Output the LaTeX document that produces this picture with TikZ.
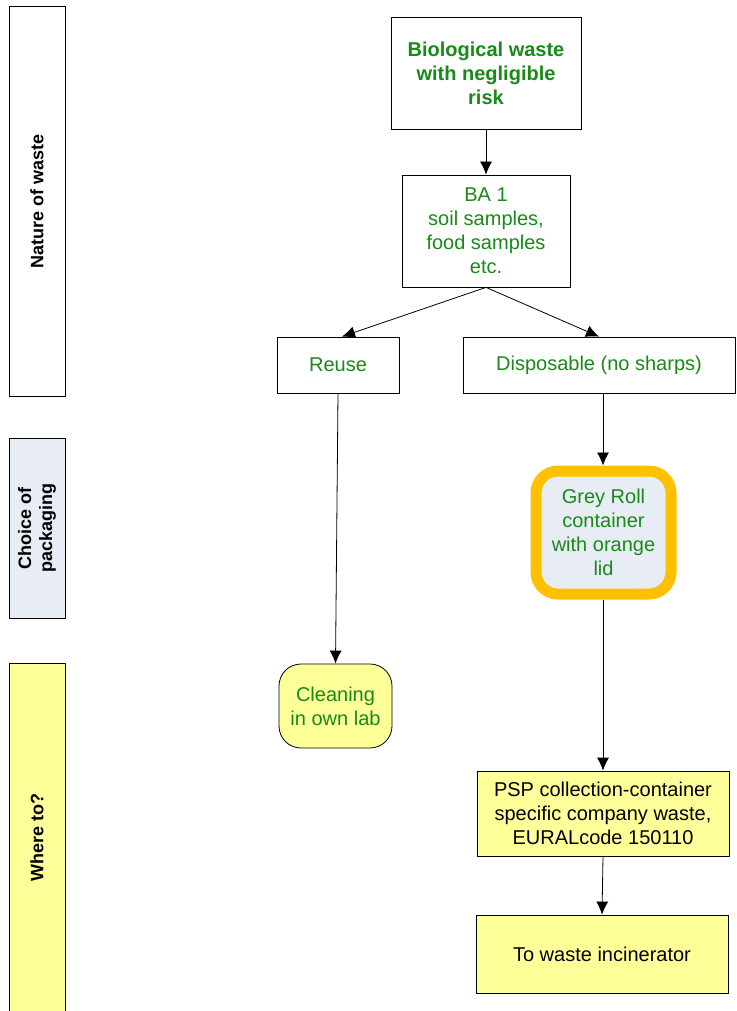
\documentclass[tikz,border=0pt]{standalone}
\usepackage{fontspec}
\setmainfont{Liberation Sans}
\usetikzlibrary{arrows.meta}
\definecolor{tgreen}{RGB}{24,138,24}
\definecolor{laneblue}{RGB}{232,236,245}
\definecolor{paleyellow}{RGB}{255,255,153}
\definecolor{orangeline}{RGB}{255,192,0}
\tikzset{
  lane/.style={draw=black, line width=0.8pt, minimum width=56, inner sep=0pt},
  lanetext/.style={rotate=90, font=\fontsize{18}{21}\selectfont\bfseries, align=center},
  box/.style={draw=black, line width=0.8pt, align=center, inner sep=0pt, text=tgreen,
    font=\fontsize{20}{24}\selectfont},
  arr/.style={-{Latex[length=13pt,width=12pt]}, line width=0.8pt}
}
\begin{document}
\begin{tikzpicture}[x=1pt,y=-1pt]
\useasboundingbox[fill=white] (0,0) rectangle (736,1011);
% lanes
\node[lane, fill=white, minimum height=390] (lane1) at (37,201) {};
\node[lanetext] (lane1t) at (lane1.center) {Nature of waste};
\node[lane, fill=laneblue, minimum height=180] (lane2) at (37,528) {};
\node[lanetext] (lane2t) at (lane2.center) {Choice of\\packaging};
\node[lane, fill=paleyellow, minimum height=352] (lane3) at (37,839) {};
\node[lanetext] (lane3t) at (37,837) {Where to?};
% boxes
\node[box, minimum width=190, minimum height=112, font=\fontsize{20}{24}\selectfont\bfseries] (bio) at (486,73) {Biological waste\\with negligible\\risk};
\node[box, minimum width=168, minimum height=112] (ba1) at (486,231) {BA 1\\soil samples,\\food samples\\etc.};
\node[box, minimum width=122, minimum height=56] (reuse) at (338,365) {Reuse};
\node[box, minimum width=272, minimum height=56] (disp) at (599,365) {Disposable (no sharps)};
\node[box, draw=orangeline, line width=11pt, fill=laneblue, rounded corners=22, minimum width=135, minimum height=123] (grey) at (603.5,532.5) {Grey Roll\\container\\with orange\\lid};
\node[box, fill=paleyellow, rounded corners=22, minimum width=113, minimum height=84] (clean) at (335.5,706) {Cleaning\\in own lab};
\node[box, fill=paleyellow, text=black, minimum width=252, minimum height=85] (psp) at (603,813.5) {PSP collection-container\\specific company waste,\\EURALcode 150110};
\node[box, fill=paleyellow, text=black, minimum width=252, minimum height=78] (inc) at (602,954) {To waste incinerator};
% arrows
\draw[arr] (bio.south) -- (ba1.north);
\draw[arr] (ba1.south) -- ([xshift=4]reuse.north);
\draw[arr] (ba1.south) -- (disp.north);
\draw[arr] (reuse.south) -- (clean.north);
\draw[arr] ([xshift=4]disp.south) -- ([xshift=-0.5]grey.north);
\draw[arr] ([xshift=-0.5]grey.south) -- (psp.north);
\draw[arr] (psp.south) -- (inc.north);
\end{tikzpicture}
\end{document}
